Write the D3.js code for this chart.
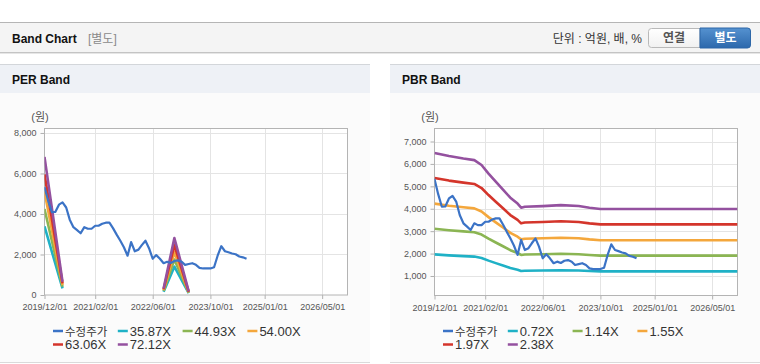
<!DOCTYPE html>
<html>
<head>
<meta charset="utf-8">
<script src="https://cdn.jsdelivr.net/npm/d3@7"></script>
<style>
  body { margin: 0; background: #fff; }
  svg text { font-family: "Liberation Sans", "Noto Sans CJK KR", sans-serif; }
</style>
</head>
<body>
<div id="chart"></div>
<script>
// ---- data ----
const priceDates = [
  '2019-12','2020-01','2020-02','2020-03','2020-04','2020-05','2020-06','2020-07','2020-08','2020-09','2020-10','2020-11',
  '2020-12','2021-01','2021-02','2021-03','2021-04','2021-05','2021-06','2021-07','2021-08','2021-09','2021-10','2021-11',
  '2021-12','2022-01','2022-02','2022-03','2022-04','2022-05','2022-06','2022-07','2022-08','2022-09','2022-10','2022-11',
  '2022-12','2023-01','2023-02','2023-03','2023-04','2023-05','2023-06','2023-07','2023-08','2023-09','2023-10','2023-11',
  '2023-12','2024-01','2024-02','2024-03','2024-04','2024-05','2024-06','2024-07','2024-08'
];
const priceValues = [
  5330, 4650, 4090, 4100, 4460, 4570, 4320, 3720, 3350, 3200, 3050, 3350,
  3270, 3270, 3420, 3420, 3520, 3570, 3570, 3300, 2980, 2680, 2360, 1940,
  2610, 2160, 2240, 2460, 2680, 2310, 1790, 1970, 1790, 1570, 1640, 1580,
  1680, 1710, 1640, 1490, 1530, 1570, 1490, 1340, 1310, 1310, 1310, 1370,
  1940, 2410, 2160, 2110, 2050, 2010, 1900, 1860, 1790
];

// PER band (gap where EPS is negative)
const perBandDates = ['2019-12', '2020-05', '2020-06', '2022-09', '2022-12', '2023-04'];
const perLabels = ['35.87X', '44.93X', '54.00X', '63.06X', '72.12X'];
const per1 = [3390, 326, null, 161, 1399, 90];
const per2 = [4246, 409, null, 202, 1752, 112];
const per3 = [5103, 491, null, 243, 2106, 135];
const per4 = [5959, 574, null, 284, 2459, 158];
const per5 = [6815, 656, null, 325, 2813, 180];

// PBR band
const pbrBandDates = [
  '2019-12','2020-04','2020-08','2020-11','2021-01','2021-03','2021-05','2021-07','2021-09',
  '2021-11','2021-12','2022-01','2022-06','2022-11','2023-04','2023-07','2023-10','2026-12'
];
const pbrLabels = ['0.72X', '1.14X', '1.55X', '1.97X', '2.38X'];
const pbr1 = [1963, 1921, 1888, 1866, 1800, 1685, 1575, 1470, 1359, 1279, 1224, 1237, 1246, 1259, 1246, 1224, 1207, 1207];
const pbr2 = [3109, 3042, 2989, 2955, 2850, 2668, 2494, 2327, 2152, 2026, 1938, 1959, 1972, 1993, 1973, 1938, 1911, 1911];
const pbr3 = [4227, 4135, 4064, 4018, 3875, 3627, 3391, 3164, 2926, 2754, 2635, 2663, 2682, 2709, 2683, 2635, 2598, 2598];
const pbr4 = [5372, 5256, 5165, 5106, 4925, 4610, 4310, 4021, 3719, 3501, 3349, 3384, 3408, 3444, 3410, 3349, 3302, 3302];
const pbr5 = [6490, 6350, 6240, 6169, 5950, 5569, 5207, 4858, 4493, 4229, 4046, 4089, 4117, 4160, 4120, 4046, 3989, 3989];

const xTickLabels = ['2019/12/01', '2021/02/01', '2022/06/01', '2023/10/01', '2025/01/01', '2026/05/01'];
const perYTicks = [0, 2000, 4000, 6000, 8000];
const pbrYTicks = [1000, 2000, 3000, 4000, 5000, 6000, 7000];

const priceLabel = '수정주가';
const colors = ['#3b73c6', '#1fb1c6', '#8bb553', '#f4a73c', '#d4352b', '#94519f'];

// ---- drawing ----
const W = 760, H = 364;
const parseMonth = d3.timeParse('%Y-%m');
const parseTick = d3.timeParse('%Y/%m/%d');

const svg = d3.select('#chart').append('svg')
  .attr('width', W).attr('height', H);

const defs = svg.append('defs');
const gBlue = defs.append('linearGradient').attr('id', 'btnBlue').attr('x1', 0).attr('y1', 0).attr('x2', 0).attr('y2', 1);
gBlue.append('stop').attr('offset', '0%').attr('stop-color', '#5592d0');
gBlue.append('stop').attr('offset', '100%').attr('stop-color', '#2c68ac');
const gWhite = defs.append('linearGradient').attr('id', 'btnWhite').attr('x1', 0).attr('y1', 0).attr('x2', 0).attr('y2', 1);
gWhite.append('stop').attr('offset', '0%').attr('stop-color', '#ffffff');
gWhite.append('stop').attr('offset', '100%').attr('stop-color', '#f1f1f1');

// top header bar
svg.append('rect').attr('x', 0).attr('y', 23).attr('width', W).attr('height', 30).attr('fill', '#f4f4f4');
svg.append('line').attr('x1', 0).attr('x2', W).attr('y1', 22.5).attr('y2', 22.5).attr('stroke', '#b5b5b5');
svg.append('line').attr('x1', 0).attr('x2', W).attr('y1', 52.5).attr('y2', 52.5).attr('stroke', '#c4c4c4');
svg.append('line').attr('x1', 0).attr('x2', W).attr('y1', 53.5).attr('y2', 53.5).attr('stroke', '#e6e6e6');

svg.append('text').attr('x', 12).attr('y', 43)
  .style('font-size', '12px').style('font-weight', 'bold').attr('fill', '#111').text('Band Chart');
svg.append('text').attr('x', 88).attr('y', 43)
  .style('font-size', '12px').attr('fill', '#8a8a8a').text('[별도]');
svg.append('text').attr('x', 642).attr('y', 43).attr('text-anchor', 'end')
  .style('font-size', '12px').attr('fill', '#333').text('단위 : 억원, 배, %');

// toggle buttons
svg.append('path')
  .attr('d', 'M700,28.5 H651.5 Q648.5,28.5 648.5,31.5 V44.5 Q648.5,47.5 651.5,47.5 H700 Z')
  .attr('fill', 'url(#btnWhite)').attr('stroke', '#b9b9b9');
svg.append('path')
  .attr('d', 'M700,28 H747.5 Q750.5,28 750.5,31 V45 Q750.5,48 747.5,48 H700 Z')
  .attr('fill', 'url(#btnBlue)').attr('stroke', '#2d67a8');
svg.append('text').attr('x', 674).attr('y', 42).attr('text-anchor', 'middle')
  .style('font-size', '12px').style('font-weight', 'bold').attr('fill', '#555').text('연결');
svg.append('text').attr('x', 725.5).attr('y', 42).attr('text-anchor', 'middle')
  .style('font-size', '12px').style('font-weight', 'bold').attr('fill', '#fff').text('별도');

function drawPanel(x0, title, yDomain, yRange, yTicks, bandDates, bands, bandLabels) {
  const g = svg.append('g');

  g.append('rect').attr('x', x0).attr('y', 64).attr('width', 370).attr('height', 298).attr('fill', '#fbfbfb');
  g.append('rect').attr('x', x0).attr('y', 64).attr('width', 370).attr('height', 29).attr('fill', '#eef1f6');
  g.append('line').attr('x1', x0).attr('x2', x0 + 370).attr('y1', 64.5).attr('y2', 64.5).attr('stroke', '#d3d6da');
  g.append('line').attr('x1', x0).attr('x2', x0 + 370).attr('y1', 362.5).attr('y2', 362.5).attr('stroke', '#dadada');
  g.append('text').attr('x', x0 + 12).attr('y', 84)
    .style('font-size', '12px').style('font-weight', 'bold').attr('fill', '#111').text(title);

  const left = x0 + 44.5, right = x0 + 347.5;
  const top = 128.5, bottom = yRange[0];

  const x = d3.scaleTime()
    .domain([parseMonth('2019-12'), parseMonth('2026-12')])
    .range([left, right]);
  const y = d3.scaleLinear().domain(yDomain).range(yRange);
  const xTicks = xTickLabels.map(parseTick);

  // plot background and grid
  g.append('rect').attr('x', left).attr('y', top).attr('width', right - left).attr('height', bottom - top)
    .attr('fill', '#fff');
  g.append('g').selectAll('line').data(yTicks.filter(t => t > yDomain[0])).join('line')
    .attr('x1', left).attr('x2', right)
    .attr('y1', d => Math.round(y(d)) + 0.5).attr('y2', d => Math.round(y(d)) + 0.5)
    .attr('stroke', '#e4e4e4');
  g.append('g').selectAll('line').data(xTicks.slice(1)).join('line')
    .attr('x1', d => Math.round(x(d)) + 0.5).attr('x2', d => Math.round(x(d)) + 0.5)
    .attr('y1', top).attr('y2', bottom)
    .attr('stroke', '#e4e4e4');

  // axes
  const yAxis = g.append('g').attr('transform', `translate(${left},0)`)
    .call(d3.axisLeft(y).tickValues(yTicks).tickFormat(d3.format(',')).tickSize(4).tickSizeOuter(0).tickPadding(4));
  const xAxis = g.append('g').attr('transform', `translate(0,${bottom})`)
    .call(d3.axisBottom(x).tickValues(xTicks).tickFormat(d3.timeFormat('%Y/%m/%d')).tickSize(4).tickSizeOuter(0).tickPadding(5));
  [yAxis, xAxis].forEach(a => {
    a.select('.domain').remove();
    a.selectAll('line').attr('stroke', '#b0b0b0');
    a.selectAll('text').attr('fill', '#555').style('font-size', '9px');
  });

  // frame
  g.append('rect').attr('x', left).attr('y', top).attr('width', right - left).attr('height', bottom - top)
    .attr('fill', 'none').attr('stroke', '#b4b4b4');

  g.append('text').attr('x', x0 + 40).attr('y', 121).attr('text-anchor', 'middle')
    .style('font-size', '11px').attr('fill', '#555').text('(원)');

  // lines
  const clipId = 'clip' + x0;
  defs.append('clipPath').attr('id', clipId).append('rect')
    .attr('x', left).attr('y', top).attr('width', right - left).attr('height', bottom - top);
  const plot = g.append('g').attr('clip-path', `url(#${clipId})`);

  const line = d3.line()
    .defined(d => d.v != null)
    .x(d => x(d.date))
    .y(d => y(d.v));

  bands.forEach((vals, i) => {
    const pts = bandDates.map((dt, j) => ({ date: parseMonth(dt), v: vals[j] }));
    plot.append('path').datum(pts)
      .attr('fill', 'none').attr('stroke', colors[i + 1]).attr('stroke-width', 2.6)
      .attr('stroke-linejoin', 'round')
      .attr('d', line);
  });

  const pricePts = priceDates.map((dt, j) => ({ date: parseMonth(dt), v: priceValues[j] }));
  plot.append('path').datum(pricePts)
    .attr('fill', 'none').attr('stroke', colors[0]).attr('stroke-width', 2.2)
    .attr('stroke-linejoin', 'round')
    .attr('d', line);

  // legend
  const names = [priceLabel].concat(bandLabels);
  const legend = g.append('g');
  names.forEach((name, i) => {
    const col = i < 4 ? i : i - 4;
    const row = i < 4 ? 0 : 1;
    const lx = x0 + 53 + col * 64.8;
    const ly = 331 + row * 13.5;
    legend.append('line').attr('x1', lx).attr('x2', lx + 10).attr('y1', ly).attr('y2', ly)
      .attr('stroke', colors[i]).attr('stroke-width', 2.5);
    legend.append('text').attr('x', lx + 12).attr('y', ly + 4.5)
      .style('font-size', i === 0 ? '11.5px' : '13px').attr('fill', '#333').text(name);
  });
}

drawPanel(0, 'PER Band', [0, 8220], [295, 128.5], perYTicks, perBandDates,
  [per1, per2, per3, per4, per5], perLabels);
drawPanel(390, 'PBR Band', [130, 7580], [295.5, 128.5], pbrYTicks, pbrBandDates,
  [pbr1, pbr2, pbr3, pbr4, pbr5], pbrLabels);
</script>
</body>
</html>
